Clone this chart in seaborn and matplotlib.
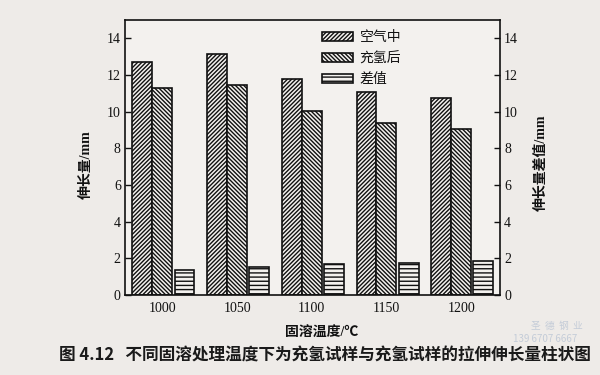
import matplotlib
matplotlib.use("Agg")
import matplotlib.pyplot as plt
import seaborn as sns
import pandas as pd

# ---- data ----
temps = ["1000", "1050", "1100", "1150", "1200"]
series = ["空气中", "充氢后", "差值"]
air = [12.7, 13.14, 11.78, 11.1, 10.72]
hydrogen = [11.27, 11.47, 10.05, 9.36, 9.05]
diff = [1.36, 1.54, 1.67, 1.73, 1.87]
yticks = [0, 2, 4, 6, 8, 10, 12, 14]

rows = []
for name, vals in zip(series, [air, hydrogen, diff]):
    for t, v in zip(temps, vals):
        rows.append({"temp": t, "series": name, "value": v})
df = pd.DataFrame(rows)

sns.set_theme(style="white")
plt.rcParams["font.family"] = ["Liberation Serif", "Noto Sans CJK SC"]
plt.rcParams["hatch.linewidth"] = 1.0
plt.rcParams["hatch.color"] = "#111111"

paper = "#eeebe8"
inner = "#f3f1ee"

fig = plt.figure(figsize=(6, 3.75), dpi=100, facecolor=paper)
ax = fig.add_axes([125 / 600, 1 - 295 / 375, 375 / 600, 275 / 375])
ax.set_facecolor(inner)

sns.barplot(data=df, x="temp", y="value", hue="series", hue_order=series,
            order=temps, palette=[inner] * 3, saturation=1, width=0.8,
            edgecolor="#111111", linewidth=1.2, legend=False, ax=ax)

hatches = ["////////", "\\\\\\\\\\\\\\\\", "----"]
for cont, h in zip(ax.containers, hatches):
    for bar in cont:
        bar.set_hatch(h)
# small gap before the difference bars
for bar in ax.containers[2]:
    bar.set_x(bar.get_x() + 0.03)

ax.set_xlim(-0.5, 4.52)
ax.set_ylim(0, 15)
ax.set_yticks(yticks)
ax.set_yticklabels([str(v) for v in yticks])
ax.tick_params(axis="y", direction="in", length=4, width=1, pad=3,
               labelsize=10, colors="#111111", left=True)
ax.tick_params(axis="x", length=0, pad=5, labelsize=10, colors="#111111")

for s in ax.spines.values():
    s.set_visible(True)
    s.set_color("#111111")
    s.set_linewidth(1.2)

ax2 = ax.twinx()
ax2.set_ylim(0, 15)
ax2.set_yticks(yticks)
ax2.set_yticklabels([str(v) for v in yticks])
ax2.tick_params(axis="y", direction="in", length=4, width=1, pad=3,
                labelsize=10, colors="#111111", right=True)
for s in ax2.spines.values():
    s.set_visible(False)

ax.set_xlabel("固溶温度/℃", fontsize=10, fontweight="bold", color="#111111")
ax.xaxis.set_label_coords((322 - 125) / 375, -(327 - 295) / 275)
ax.set_ylabel("伸长量/mm", fontsize=10, fontweight="bold", color="#111111")
ax.yaxis.set_label_coords((93 - 125) / 375, (295 - 165) / 275)
ax2.set_ylabel("伸长量差值/mm", fontsize=10, fontweight="bold", color="#111111")
ax2.yaxis.set_label_coords(1 + (535 - 500) / 375, (295 - 163) / 275)

leg = ax.legend(ax.containers, series, loc="upper left",
                bbox_to_anchor=((322 - 125) / 375, 1 - (31 - 20) / 275),
                frameon=False, fontsize=10, handlelength=2.2,
                handleheight=0.6, labelspacing=0.58, handletextpad=0.5,
                borderpad=0, borderaxespad=0)
for t in leg.get_texts():
    t.set_color("#111111")

fig.text(325 / 600, 1 - 356 / 375,
         "图 4.12   不同固溶处理温度下为充氢试样与充氢试样的拉伸伸长量柱状图",
         ha="center", va="center", fontsize=12, fontweight="bold",
         color="#1a1a1a", family=["Noto Sans CJK SC", "DejaVu Sans"])
fig.text(557 / 600, 1 - 326 / 375, "圣  德  钢  业", ha="center", va="center",
         fontsize=7, color="#c4ccd8", family=["Noto Sans CJK SC", "DejaVu Sans"])
fig.text(545 / 600, 1 - 339 / 375, "139 6707 6667", ha="center", va="center",
         fontsize=7, color="#c4ccd8", family=["Noto Sans CJK SC", "DejaVu Sans"])

fig.savefig("out.png", dpi=100, facecolor=paper)
